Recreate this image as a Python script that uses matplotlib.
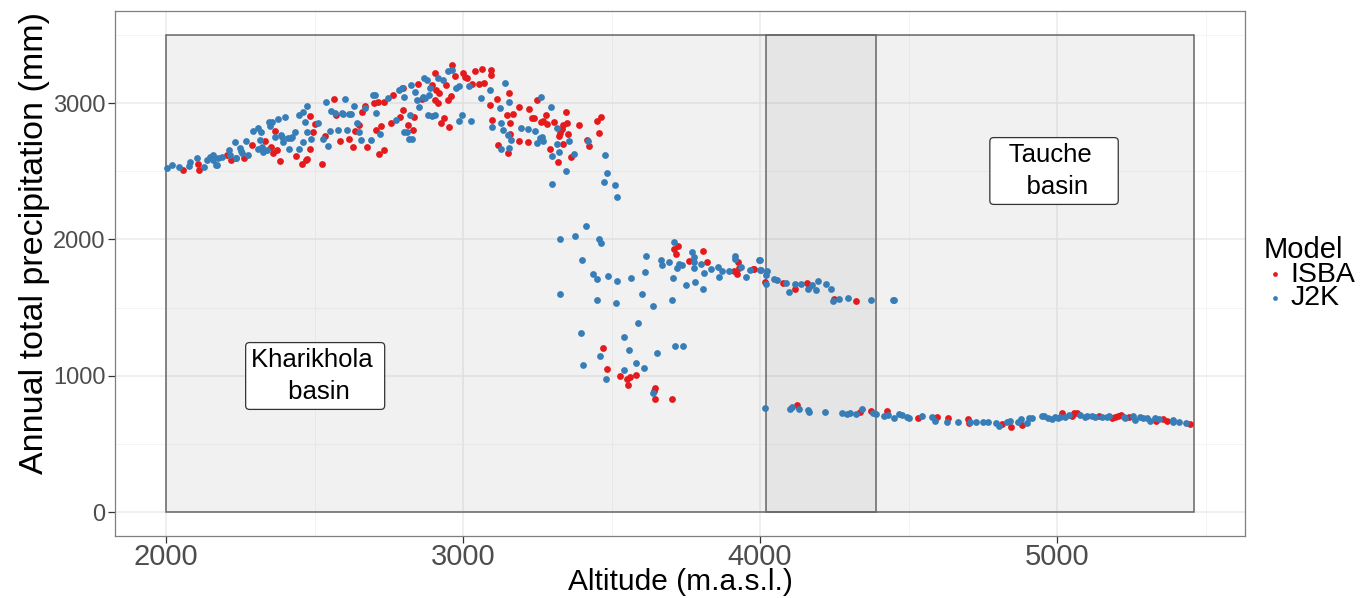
import numpy as np
import matplotlib
matplotlib.use("Agg")
import matplotlib.pyplot as plt
from matplotlib.patches import Rectangle

plt.rcParams['font.family'] = ['Liberation Sans', 'DejaVu Sans']

# ISBA model points (altitude, precipitation)
isba_alt = [2056, 2112, 2108, 2204, 2220, 2261, 2290, 2334, 2354, 2360, 2368, 2374, 2385, 2437, 2471,
            2458, 2484, 2484, 2494, 2500, 2526, 2534, 2564, 2572, 2584, 2616, 2629, 2637, 2650, 2661,
            2669, 2675, 2701, 2714, 2708, 2724, 2735, 2735, 2717, 2757, 2765, 2789, 2797, 2798, 2816,
            2833, 2836, 2849, 2861, 2897, 2904, 2904, 2909, 2915, 2920, 2926, 2937, 2942, 2948, 2951,
            2959, 2964, 2972, 2999, 3008, 3014, 3030, 3040, 3053, 3064, 3070, 3093, 3094, 3091, 3097,
            3113, 3116, 3148, 3153, 3156, 3159, 3159, 3167, 3190, 3190, 2236, 2474,
            3250, 3239, 3231, 3261, 3270, 3278, 3281, 3217, 3222, 3293, 3307, 3321, 3324, 3326, 3332,
            3336, 3337, 3345, 3351, 3353, 3365, 3391, 3416, 3424, 3450, 3463, 3459,
            3725, 3711, 3717, 3760, 3807, 3820, 3912, 3926, 3928, 3924, 3977,
            3471, 3484, 3530, 3553, 3562, 3581, 3557, 3643, 3648, 3648, 3705,
            3980, 4016, 4078, 4118, 4159, 4165, 4250, 4322,
            4124, 4335, 4373, 4429, 4533, 4595, 4634, 4699, 4705, 4814, 4844, 4881, 5018, 5049, 5058,
            5068, 5141, 5184, 5195, 5206, 5214, 5242, 5333, 5358, 5369, 5448]
isba_prec = [2513, 2513, 2552, 2618, 2582, 2601, 2692, 2721, 2680, 2631, 2797, 2655, 2574, 2613, 2582,
             2550, 2904, 2660, 2789, 2846, 2550, 2760, 3032, 2912, 2721, 2740, 2680, 2797, 2839, 2937,
             2977, 2675, 2998, 3010, 2802, 2833, 3005, 2655, 2626, 2851, 3059, 2900, 2951, 3112, 2839,
             2802, 2900, 3137, 3034, 3132, 3218, 3024, 3098, 3000, 3073, 2851, 2888, 3132, 3024, 2826,
             3049, 3279, 3198, 3218, 3193, 3181, 3137, 3238, 3137, 3247, 3147, 3242, 3206, 2985, 2873,
             3034, 2692, 2912, 2633, 3073, 2851, 2772, 2922, 2968, 2720, 2599, 2587,
             3023, 2889, 2889, 2864, 2871, 2911, 2847, 2717, 2955, 2666, 2864, 2571, 2759, 2783, 2808,
             2840, 2700, 2933, 2857, 2774, 2607, 2840, 2730, 2686, 2869, 2901, 2783,
             1949, 1927, 1893, 1839, 1915, 1832, 1770, 1832, 1788, 1744, 1783,
             1203, 1049, 995, 976, 993, 1002, 931, 890, 907, 829, 826,
             1782, 1689, 1677, 1633, 1677, 1648, 1560, 1548,
             785, 731, 743, 740, 687, 697, 692, 679, 650, 645, 626, 638, 728, 706, 728,
             728, 706, 692, 699, 704, 711, 699, 667, 679, 670, 645]

# J2K model points (altitude, precipitation)
j2k_alt = [2002, 2021, 2045, 2080, 2078, 2105, 2129, 2137, 2148, 2159, 2168, 2187, 2213, 2234, 2233,
           2251, 2270, 2276, 2292, 2311, 2320, 2309, 2326, 2346, 2378, 2389, 2400, 2414, 2420, 2448,
           2449, 2460, 2462, 2475, 2489, 2511, 2528, 2537, 2545, 2551, 2557, 2578, 2595, 2604, 2608,
           2617, 2633, 2656, 2689, 2697, 2708, 2719, 2774, 2783, 2802, 2802, 2818, 2821, 2824, 2839,
           2844, 2853, 2867, 2873, 2877, 2883, 2887, 2894, 2931, 2975, 2986, 2988, 2995, 3019, 3027,
           3062, 3091, 3096, 3124, 3129, 3129, 3134, 3142, 3151, 3156, 3162, 3156, 3195,
           2176, 2173, 2157, 2216, 2249, 2255, 2317, 2322, 2339, 2350, 2356, 2367, 2386, 2395, 2412,
           2423, 2434, 2468, 2474,
           2569, 2591, 2622, 2644, 2651, 2670, 2703, 2748, 2793, 2812, 2829, 2866, 2889, 2905, 2917,
           2950, 2962,
           3220, 3242, 3262, 3259, 3248, 3265, 3270, 3295, 3299, 3298, 3315, 3315, 3324, 3345, 3357,
           3373, 3422, 3478, 3486, 3474, 3511, 3520,
           3415, 3328, 3376, 3457, 3464, 3400, 3437, 3452, 3489, 3517, 3567, 3616, 3612, 3602, 3327,
           3451, 3516, 3640, 3702, 3706, 3665, 3671, 3695, 3711, 3722, 3728, 3738, 3751, 3771, 3778,
           3779, 3779, 3781, 3800, 3810, 3809, 3835, 3858, 3863, 3872, 3894, 3915, 3915, 3935, 3952,
           3966, 3998, 4000, 3590, 3398, 3543, 3558, 3461, 3404, 3582, 3609, 3652, 3714, 3740, 3541,
           3480, 3641,
           4001, 4002, 4020, 4025, 4020, 4047, 4058, 4087, 4098, 4118, 4137, 4160, 4176, 4188, 4196,
           4221, 4239, 4247, 4266, 4295, 4374, 4449, 4452,
           4017, 4101, 4108, 4132, 4163, 4165, 4219, 4275, 4294, 4303, 4323, 4344, 4382, 4391, 4418,
           4432, 4451, 4469, 4478, 4494, 4503, 4544, 4578, 4589, 4629, 4665, 4707, 4726, 4750, 4769,
           4795, 4803, 4831, 4842, 4867, 4878, 4898, 4907, 4915, 4948, 4956, 4971, 4982, 4993, 5004,
           5010, 5027, 5040, 5077, 5094, 5100, 5117, 5128, 5150, 5167, 5176, 5225, 5230, 5257, 5262,
           5279, 5290, 5302, 5313, 5330, 5345, 5389, 5392, 5412, 5436]
j2k_prec = [2525, 2545, 2528, 2565, 2538, 2601, 2528, 2582, 2606, 2618, 2545, 2606, 2655, 2594, 2716,
            2650, 2723, 2618, 2794, 2814, 2789, 2667, 2643, 2863, 2880, 2752, 2895, 2667, 2747, 2667,
            2912, 2716, 2935, 2977, 2740, 2851, 2735, 3010, 2684, 2794, 2941, 2802, 2920, 3027, 2802,
            2918, 2977, 2730, 2730, 3059, 2930, 2774, 2875, 3100, 2789, 3044, 2735, 2912, 3130, 3085,
            3024, 2973, 3181, 3041, 3168, 2912, 3061, 2907, 3168, 3108, 3125, 2870, 2912, 3125, 2868,
            3041, 3098, 2826, 2963, 2851, 2667, 2802, 3147, 2765, 2672, 2728, 3005, 2814,
            2595, 2546, 2582, 2619, 2668, 2631, 2729, 2680, 2656, 2832, 2864, 2754, 2766, 2717, 2741,
            2754, 2785, 2864, 2790,
            2925, 2925, 2917, 2851, 2790, 2961, 3059, 3035, 3113, 2790, 2734, 3042, 3108, 2912, 3181,
            3238, 3243,
            2813, 2796, 3048, 2742, 2705, 2750, 2720, 2974, 2612, 2404, 2815, 2698, 2644, 2505, 2725,
            2627, 2725, 2617, 2490, 2424, 2400, 2309,
            2101, 2003, 2022, 2003, 1973, 1851, 1748, 1707, 1729, 1697, 1714, 1878, 1763, 1597, 1597,
            1558, 1533, 1509, 1553, 1719, 1849, 1810, 1836, 1981, 1792, 1817, 1810, 1668, 1910, 1868,
            1836, 1788, 1687, 1822, 1756, 1633, 1785, 1800, 1721, 1770, 1766, 1878, 1854, 1795, 1726,
            1775, 1846, 1775, 1389, 1315, 1286, 1191, 1147, 1081, 1090, 1056, 1164, 1215, 1220, 1042,
            978, 875,
            1846, 1775, 1736, 1770, 1672, 1707, 1702, 1682, 1611, 1670, 1672, 1633, 1665, 1628, 1694,
            1672, 1636, 1548, 1560, 1567, 1555, 1555, 1553,
            765, 753, 767, 753, 748, 736, 731, 723, 718, 723, 716, 753, 723, 716, 704,
            711, 687, 718, 709, 699, 687, 706, 694, 670, 662, 657, 662, 662, 657, 657,
            650, 630, 662, 667, 662, 679, 650, 687, 692, 704, 706, 692, 679, 699, 687,
            699, 699, 711, 711, 699, 706, 704, 697, 697, 699, 704, 697, 687, 704, 677,
            694, 687, 687, 670, 692, 679, 675, 662, 662, 655]

# basin extents (altitude range, precipitation range)
kharikhola_x = [2000, 4390]
tauche_x = [4020, 5461]
basin_y = [0, 3500]
basin_names = ["Kharikhola \n basin", "  Tauche   \n    basin   "]
label_pos = [(2502, 998), (4990, 2502)]

fig = plt.figure(figsize=(13.7, 5.98), dpi=100)
ax = fig.add_axes([115 / 1370, 62 / 598, 1130 / 1370, 525 / 598])

for xs in [kharikhola_x, tauche_x]:
    ax.add_patch(Rectangle((xs[0], basin_y[0]), xs[1] - xs[0], basin_y[1] - basin_y[0],
                           facecolor="#7d7d7d", alpha=0.1, edgecolor="none", zorder=1))
    ax.add_patch(Rectangle((xs[0], basin_y[0]), xs[1] - xs[0], basin_y[1] - basin_y[0],
                           facecolor="none", edgecolor="#666666", linewidth=1.1, zorder=1.5))

ax.scatter(isba_alt, isba_prec, s=24, color="#E41A1C", linewidths=0, label="ISBA", zorder=3)
ax.scatter(j2k_alt, j2k_prec, s=24, color="#377EB8", linewidths=0, label="J2K", zorder=3)

for name, (lx, ly) in zip(basin_names, label_pos):
    ax.text(lx, ly, name, fontsize=18.5, ha="center", va="center", multialignment="center",
            linespacing=1.45, zorder=4,
            bbox=dict(boxstyle="round,pad=0.2,rounding_size=0.15", facecolor="white",
                      edgecolor="#333333", linewidth=0.9))

ax.set_xlim(1828, 5633)
ax.set_ylim(-176, 3676)
ax.set_xticks([2000, 3000, 4000, 5000])
ax.set_yticks([0, 1000, 2000, 3000])
ax.set_xticks([2500, 3500, 4500, 5500], minor=True)
ax.set_yticks([500, 1500, 2500, 3500], minor=True)
ax.grid(which="major", color="#ebebeb", linewidth=1.1, zorder=0)
ax.grid(which="minor", color="#f2f2f2", linewidth=0.6, zorder=0)
ax.set_axisbelow(True)
ax.tick_params(which="minor", length=0)
ax.tick_params(axis="x", which="major", labelsize=21, colors="#333333", length=5, width=0.9,
               labelcolor="#4d4d4d", pad=0)
ax.tick_params(axis="y", which="major", labelsize=17, colors="#333333", length=5, width=0.9,
               labelcolor="#4d4d4d", pad=2)
for sp in ax.spines.values():
    sp.set_color("#7f7f7f")
    sp.set_linewidth(0.9)

ax.set_xlabel("Altitude (m.a.s.l.)", fontsize=21.5, labelpad=-2)
ax.set_ylabel("Annual total precipitation (mm)", fontsize=24.5)
ax.yaxis.set_label_coords(-0.071, 0.558)
ax.yaxis.label.set_va("center")

leg = ax.legend(title="Model", loc="center left", bbox_to_anchor=(1.006, 0.5), frameon=False,
                fontsize=20.5, title_fontsize=21, markerscale=0.7, handletextpad=0.15,
                labelspacing=-0.08, borderaxespad=0, handlelength=0.8, alignment="left")

fig.savefig("out.png", dpi=100)
